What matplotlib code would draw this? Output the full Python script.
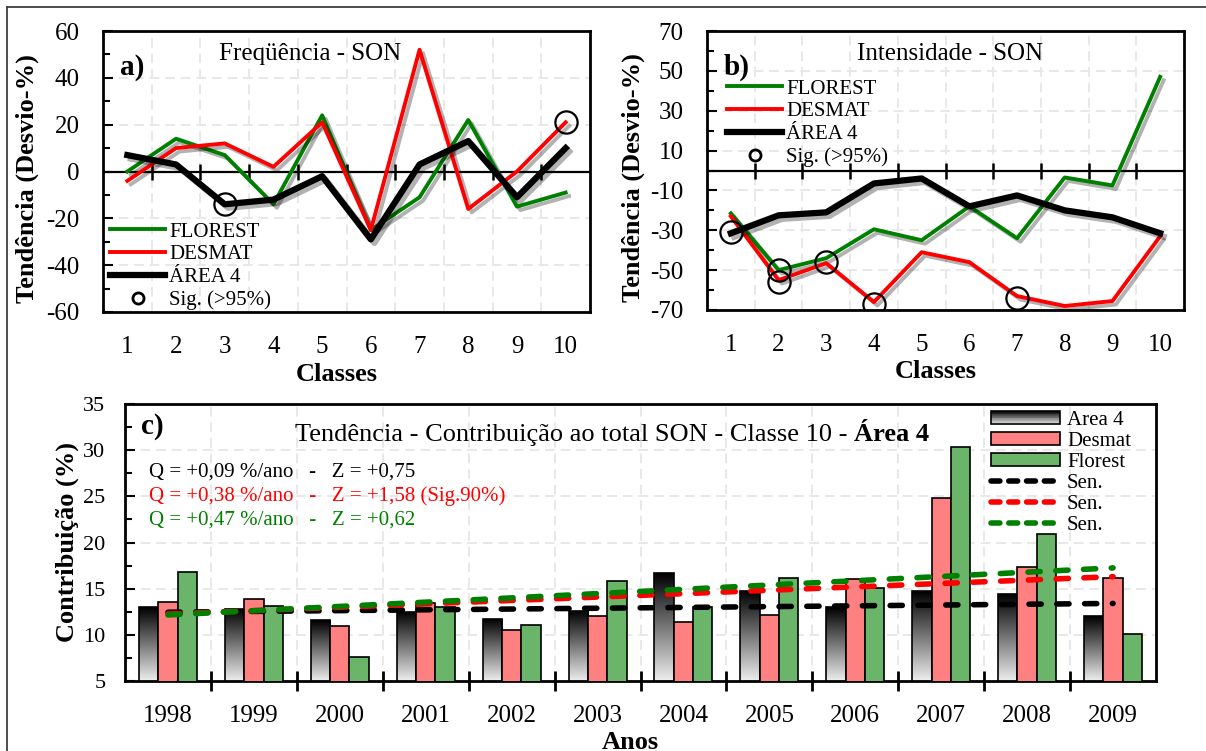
import numpy as np
import matplotlib
matplotlib.use("Agg")
import matplotlib.pyplot as plt
import matplotlib.patheffects as pe
from matplotlib.patches import Rectangle
from matplotlib.lines import Line2D
from matplotlib.legend_handler import HandlerBase

plt.rcParams["font.family"] = ["Liberation Serif", "DejaVu Serif"]
plt.rcParams["axes.unicode_minus"] = False

# ---------------------------------------------------------------------------
# Data
# ---------------------------------------------------------------------------
CLASSES = [1, 2, 3, 4, 5, 6, 7, 8, 9, 10]

# (a) Frequencia - SON
FREQ_FLOREST = [0, 14, 7, -14, 24, -25, -11, 22, -15, -9]
FREQ_DESMAT = [-4, 10, 12, 2, 21, -25, 52, -16, 0, 21]
FREQ_AREA4 = [7, 3, -14, -12, -2, -29, 3, 13, -11, 10]
FREQ_SIG_X = [3, 10]
FREQ_SIG_Y = [-14, 21]

# (b) Intensidade - SON
INT_FLOREST = [-21.5, -50, -44, -29.5, -35, -18, -34, -3.5, -7.5, 47]
INT_DESMAT = [-23, -55, -46.5, -66, -41, -46, -63, -68, -65.5, -33]
INT_AREA4 = [-31.5, -22.5, -21, -6.5, -4, -18, -12.5, -20, -23.5, -31.5]
INT_SIG_X = [1, 2, 2, 3, 4, 7]
INT_SIG_Y = [-31, -50, -56, -46, -67, -64]

# (c) Contribuicao ao total SON - classe 10
YEARS = ["1998", "1999", "2000", "2001", "2002", "2003",
         "2004", "2005", "2006", "2007", "2008", "2009"]
CONTR_AREA4 = [13.0, 12.8, 11.6, 12.5, 11.75, 12.6, 16.7, 14.8, 13.0, 14.7, 14.4, 12.0]
CONTR_DESMAT = [13.6, 13.9, 11.0, 13.45, 10.5, 12.0, 11.35, 12.1, 16.1, 24.8, 17.35, 16.15]
CONTR_FLOREST = [16.85, 13.1, 7.6, 13.05, 11.1, 15.8, 13.0, 16.2, 15.1, 30.3, 20.9, 10.05]
# Sen slope lines: value at 1998 and at 2009 (area4, desmat, florest)
SEN_START = [12.45, 12.25, 12.15]
SEN_END = [13.4, 16.3, 17.25]
Q_TEXT = ["Q = +0,09 %/ano \u2002-\u2002 Z = +0,75",
          "Q = +0,38 %/ano \u2002-\u2002 Z = +1,58 (Sig.90%)",
          "Q = +0,47 %/ano \u2002-\u2002 Z = +0,62"]

GREEN = "#008000"
RED = "#ff0000"
BAR_RED = "#ff8080"
BAR_GREEN = "#6bb56b"
GRID = "#e8e8e8"

W, H = 1206, 751


def fx(px):
    return px / W


def fy(py):
    return 1 - py / H


fig = plt.figure(figsize=(W / 100, H / 100), dpi=100)

# outer frame (top + left edge visible)
fig.add_artist(Line2D([fx(7), fx(7)], [0, fy(6.5)], color="#404040", lw=1.3))
fig.add_artist(Line2D([fx(7), 1], [fy(6.5), fy(6.5)], color="#404040", lw=1.3))

shadow = [pe.SimpleLineShadow(offset=(2.5, -2.5), shadow_color="k", alpha=0.3),
          pe.Normal()]


def line_panel(rect, fl, de, ar, sx, sy, ylim, yticks, yminor, tag, title,
               title_x, leg_anchor):
    ax = fig.add_axes(rect)
    ax.set_xlim(0.5, 10.5)
    ax.set_ylim(*ylim)
    bounds = np.arange(1.5, 10, 1)
    for b in bounds:
        ax.axvline(b, color=GRID, ls=(0, (5, 3)), lw=1.4, zorder=0)
    for y in yticks:
        ax.axhline(y, color=GRID, ls=(0, (5, 3)), lw=1.4, zorder=0)
    ax.axhline(0, color="k", lw=1.6, zorder=2)
    ax.plot(bounds, np.zeros(len(bounds)), ls="none", marker="|", ms=11,
            mew=1.8, color="k", zorder=2)

    ax.plot(CLASSES, fl, color=GREEN, lw=2.8, path_effects=shadow, zorder=3)
    ax.plot(CLASSES, de, color=RED, lw=2.8, path_effects=shadow, zorder=3)
    ax.plot(CLASSES, ar, color="k", lw=4.5, path_effects=shadow, zorder=4)
    ax.plot(sx, sy, ls="none", marker="o", ms=16, mfc="none", mec="k",
            mew=1.6, zorder=5)

    ax.set_xticks(CLASSES)
    ax.tick_params(axis="x", length=0, pad=17, labelsize=18)
    ax.set_yticks(yticks)
    ax.set_yticks(yminor, minor=True)
    ax.tick_params(axis="y", which="both", direction="in", labelsize=18, pad=17)
    ax.tick_params(axis="y", which="major", length=7, width=1.5)
    ax.tick_params(axis="y", which="minor", length=5, width=1.5)
    for s in ax.spines.values():
        s.set_linewidth(2)
    ax.set_ylabel("Tendência (Desvio-%)", fontsize=19, fontweight="bold")
    ax.yaxis.set_label_coords(-0.131, 0.475)
    ax.set_xlabel("Classes", fontsize=19, fontweight="bold")
    ax.xaxis.set_label_coords(0.48, -0.18)

    ax.text(0.035, 0.87, tag, transform=ax.transAxes, fontsize=21,
            fontweight="bold", va="center")
    fig.text(title_x, fy(54), title, fontsize=18, ha="center", va="center")

    handles = [Line2D([], [], color=GREEN, lw=2.8),
               Line2D([], [], color=RED, lw=2.8),
               Line2D([], [], color="k", lw=4.5),
               Line2D([], [], ls="none", marker="o", ms=8, mfc="none",
                      mec="k", mew=2)]
    labels = ["FLOREST", "DESMAT", "ÁREA 4", "Sig. (>95%)"]
    fig.legend(handles, labels, loc="upper left", bbox_to_anchor=leg_anchor,
               frameon=False, fontsize=15, handlelength=2.65,
               handletextpad=0.2, labelspacing=0.15, borderpad=0,
               borderaxespad=0)
    return ax


line_panel([fx(103), fy(312), fx(590 - 103), (312 - 31) / H],
           FREQ_FLOREST, FREQ_DESMAT, FREQ_AREA4, FREQ_SIG_X, FREQ_SIG_Y,
           (-60, 60), np.arange(-60, 61, 20), np.arange(-50, 51, 20),
           "a)", "Freqüência - SON", fx(310), (fx(110), fy(222)))

line_panel([fx(707), fy(310), fx(1184 - 707), (310 - 31) / H],
           INT_FLOREST, INT_DESMAT, INT_AREA4, INT_SIG_X, INT_SIG_Y,
           (-70, 70), np.arange(-70, 71, 20), np.arange(-60, 61, 20),
           "b)", "Intensidade - SON", fx(950), (fx(727), fy(79)))

# ---------------------------------------------------------------------------
# Panel c
# ---------------------------------------------------------------------------
axc = fig.add_axes([fx(125), fy(681), fx(1156 - 125), (681 - 404) / H])
xpos = np.arange(len(YEARS))
bw = 0.225
YMIN, YMAX = 5, 35

for b in np.arange(0.5, len(YEARS) - 1, 1):
    axc.axvline(b, color=GRID, ls=(0, (5, 3)), lw=1.4, zorder=0)
for y in range(10, 35, 5):
    axc.axhline(y, color=GRID, ls=(0, (5, 3)), lw=1.4, zorder=0)

bars_a4 = axc.bar(xpos - bw, CONTR_AREA4, bw, facecolor="none",
                  edgecolor="k", lw=1.2, zorder=3)
grad = np.linspace(0.93, 0.0, 200).reshape(-1, 1)
for r in bars_a4:
    im = axc.imshow(grad, extent=[r.get_x(), r.get_x() + bw, YMIN, r.get_height()],
                    origin="lower", cmap="gray", vmin=0, vmax=1, aspect="auto",
                    interpolation="bilinear", zorder=2.5)
    im.set_clip_path(r)
axc.bar(xpos, CONTR_DESMAT, bw, color=BAR_RED, edgecolor="k", lw=1.2, zorder=3)
axc.bar(xpos + bw, CONTR_FLOREST, bw, color=BAR_GREEN, edgecolor="k", lw=1.2,
        zorder=3)

sen_colors = ["k", RED, GREEN]
for s0, s1, c in zip(SEN_START, SEN_END, sen_colors):
    axc.plot([xpos[0], xpos[-1]], [s0, s1], color=c, lw=4,
             ls=(0, (2.2, 2.8)), dash_capstyle="round", zorder=4)

axc.set_xlim(-0.5, len(YEARS) - 0.5)
axc.set_ylim(YMIN, YMAX)
axc.set_xticks(xpos)
axc.set_xticklabels(YEARS)
axc.set_xticks(np.arange(0.5, len(YEARS) - 1, 1), minor=True)
axc.tick_params(axis="x", which="major", length=0, pad=17, labelsize=18)
axc.tick_params(axis="x", which="minor", direction="inout", length=14, width=2)
axc.set_yticks(np.arange(5, 36, 5))
axc.set_yticks(np.arange(7.5, 35, 5), minor=True)
axc.tick_params(axis="y", which="both", direction="in", labelsize=16, pad=14)
axc.tick_params(axis="y", which="major", length=7, width=1.5)
axc.tick_params(axis="y", which="minor", length=5, width=1.5)
for s in axc.spines.values():
    s.set_linewidth(2)
axc.set_ylabel("Contribuição (%)", fontsize=19, fontweight="bold")
axc.yaxis.set_label_coords(-0.045, 0.5)
axc.set_xlabel("Anos", fontsize=19, fontweight="bold")
axc.xaxis.set_label_coords(0.49, -0.18)

fig.text(fx(141), fy(427), "c)", fontsize=21, fontweight="bold", va="center")
t1 = fig.text(fx(295), fy(441), "Tendência - Contribuição ao total SON - Classe 10 - ",
              fontsize=19, va="baseline")
fig.canvas.draw()
bb = t1.get_window_extent(fig.canvas.get_renderer())
fig.text(bb.x1 / fig.bbox.width, fy(441), "Área 4", fontsize=19,
         fontweight="bold", va="baseline")

for txt, c, yp in zip(Q_TEXT, sen_colors, [472, 496, 520]):
    fig.text(fx(149), fy(yp), txt, fontsize=15, color=c, va="center")


class GradientHandler(HandlerBase):
    def create_artists(self, legend, orig_handle, xdescent, ydescent, width,
                       height, fontsize, trans):
        n = 16
        arts = []
        for k in range(n):
            g = 0.92 * k / (n - 1)
            y = -ydescent + height * (1 - (k + 1) / n)
            arts.append(Rectangle((-xdescent, y), width, height / n,
                                  facecolor=str(g), edgecolor="none",
                                  transform=trans))
        arts.append(Rectangle((-xdescent, -ydescent), width, height,
                              facecolor="none", edgecolor="k", lw=1.2,
                              transform=trans))
        return arts


grad_proxy = Rectangle((0, 0), 1, 1)
leg_handles = [grad_proxy,
               Rectangle((0, 0), 1, 1, facecolor=BAR_RED, edgecolor="k", lw=1.2),
               Rectangle((0, 0), 1, 1, facecolor=BAR_GREEN, edgecolor="k", lw=1.2),
               Line2D([], [], color="k", lw=4, ls=(0, (1.6, 1.6)),
                      dash_capstyle="round"),
               Line2D([], [], color=RED, lw=4, ls=(0, (1.6, 1.6)),
                      dash_capstyle="round"),
               Line2D([], [], color=GREEN, lw=4, ls=(0, (1.6, 1.6)),
                      dash_capstyle="round")]
leg_labels = ["Area 4", "Desmat", "Florest", "Sen.", "Sen.", "Sen."]
fig.legend(leg_handles, leg_labels, loc="upper left",
           bbox_to_anchor=(fx(991), fy(411)), frameon=False, fontsize=15,
           handlelength=3.3, handleheight=0.6, handletextpad=0.35,
           labelspacing=0.1, borderpad=0, borderaxespad=0,
           handler_map={grad_proxy: GradientHandler()})

fig.savefig("out.png", dpi=100)
